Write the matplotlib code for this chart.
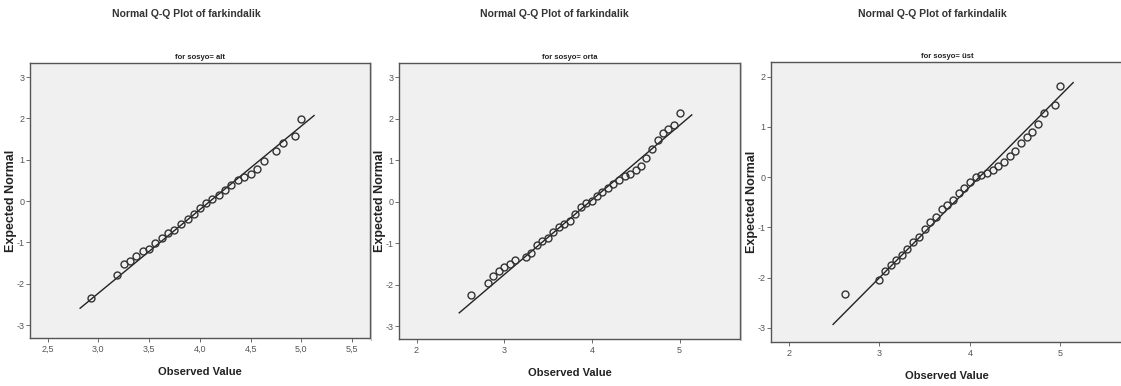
import numpy as np
import matplotlib.pyplot as plt
from matplotlib.lines import Line2D

plt.rcParams['axes.unicode_minus'] = False
plt.rcParams['font.family'] = ['Liberation Sans', 'DejaVu Sans']

alt_obs = [2.93, 3.185, 3.25, 3.31, 3.375, 3.44, 3.50, 3.56, 3.625, 3.69, 3.75, 3.81,
           3.88, 3.94, 4.00, 4.06, 4.12, 4.19, 4.25, 4.31, 4.375, 4.44, 4.50, 4.56,
           4.63, 4.75, 4.815, 4.94, 5.00]
alt_exp = [-2.34, -1.78, -1.51, -1.46, -1.33, -1.20, -1.15, -1.02, -0.89, -0.78, -0.70,
           -0.56, -0.44, -0.32, -0.17, -0.04, 0.05, 0.16, 0.27, 0.40, 0.50, 0.59, 0.66,
           0.78, 0.97, 1.21, 1.40, 1.58, 1.99]
alt_line = ([2.82, 5.126], [-2.59, 2.07])

orta_obs = [2.62, 2.81, 2.875, 2.94, 3.00, 3.066, 3.127, 3.25, 3.31, 3.375, 3.435, 3.50,
            3.56, 3.62, 3.686, 3.75, 3.81, 3.873, 3.93, 4.00, 4.06, 4.12, 4.185, 4.246,
            4.31, 4.375, 4.436, 4.50, 4.56, 4.62, 4.687, 4.75, 4.81, 4.874, 4.94, 5.00]
orta_exp = [-2.26, -1.97, -1.79, -1.67, -1.57, -1.51, -1.40, -1.33, -1.23, -1.05, -0.95,
            -0.88, -0.74, -0.60, -0.53, -0.47, -0.30, -0.14, -0.03, 0.02, 0.13, 0.23,
            0.33, 0.42, 0.53, 0.61, 0.67, 0.75, 0.87, 1.04, 1.26, 1.48, 1.66, 1.75,
            1.84, 2.13]
orta_line = ([2.487, 5.14], [-2.68, 2.09])

ust_obs = [2.623, 3.00, 3.065, 3.124, 3.187, 3.25, 3.31, 3.375, 3.437, 3.50, 3.563,
           3.625, 3.688, 3.75, 3.813, 3.876, 3.94, 4.00, 4.064, 4.127, 4.19, 4.25,
           4.315, 4.377, 4.44, 4.503, 4.565, 4.628, 4.69, 4.753, 4.816, 4.94, 5.00]
ust_exp = [-2.32, -2.05, -1.87, -1.75, -1.64, -1.55, -1.43, -1.29, -1.20, -1.03, -0.90,
           -0.79, -0.64, -0.55, -0.46, -0.31, -0.21, -0.10, 0.01, 0.04, 0.09, 0.14,
           0.23, 0.31, 0.43, 0.52, 0.67, 0.80, 0.89, 1.06, 1.27, 1.43, 1.81]
ust_line = ([2.49, 5.14], [-2.93, 1.88])

titulo = 'Normal Q-Q Plot of farkindalik'
subtitulos = ['for sosyo= alt', 'for sosyo= orta', 'for sosyo= üst']

xticks_alt = [2.5, 3.0, 3.5, 4.0, 4.5, 5.0, 5.5]
xticklabels_alt = ['2,5', '3,0', '3,5', '4,0', '4,5', '5,0', '5,5']
xticks_int = [2, 3, 4, 5]
yticks_3 = [-3, -2, -1, 0, 1, 2, 3]
yticks_2 = [-3, -2, -1, 0, 1, 2]

W, H = 1121, 386
fig = plt.figure(figsize=(W / 100, H / 100), dpi=100)

# posições em pixels: esquerda, direita, topo, base
caixas = [(30, 370, 63, 338), (399, 740, 63, 339), (771, 1123, 62, 342)]
dados = [(alt_obs, alt_exp, alt_line), (orta_obs, orta_exp, orta_line),
         (ust_obs, ust_exp, ust_line)]
xlims = [(2.326, 5.677), (1.80, 5.69), (1.805, 5.69)]
ylims = [(-3.31, 3.34), (-3.31, 3.34), (-3.28, 2.29)]
centros_titulo = [186, 554, 932]
ylabel_x = [17, 386, 758]

for i in range(3):
    l, r, t, b = caixas[i]
    ax = fig.add_axes([l / W, 1 - b / H, (r - l) / W, (b - t) / H])
    obs, exp, linha = dados[i]
    ax.set_facecolor('#f0f0f0')
    ax.plot(linha[0], linha[1], color='#222222', lw=1.0)
    ax.plot(obs, exp, 'o', ms=5, mfc='none', mec='#333333', mew=1.0)
    ax.set_xlim(xlims[i])
    ax.set_ylim(ylims[i])
    if i == 0:
        ax.set_xticks(xticks_alt)
        ax.set_xticklabels(xticklabels_alt)
    else:
        ax.set_xticks(xticks_int)
    ax.set_yticks(yticks_2 if i == 2 else yticks_3)
    ax.tick_params(length=3, width=0.6, color='#555555', labelcolor='#555555',
                   labelsize=6.5, pad=2)
    ax.tick_params(axis='y', pad=1.2)
    for s in ax.spines.values():
        s.set_color('#555555')
        s.set_linewidth(1.0)
    ax.set_title(subtitulos[i], fontsize=5.5, fontweight='bold', pad=3, color='#222222')
    ax.set_xlabel('Observed Value', fontsize=8, fontweight='bold', color='#222222')
    ax.xaxis.set_label_coords(0.5, -29 / (b - t))
    ax.set_ylabel('Expected Normal', fontsize=9, fontweight='bold', color='#222222')
    ax.yaxis.set_label_coords((ylabel_x[i] - l) / (r - l), 0.5)
    fig.text(centros_titulo[i] / W, 1 - 14 / H, titulo, ha='center', va='center',
             fontsize=7.5, fontweight='bold', color='#333333')

# linhas finas de separação entre os painéis
for xs in [371, 741]:
    fig.add_artist(Line2D([xs / W, xs / W], [1 - 340 / H, 1 - 63 / H],
                          color='#bbbbbb', lw=0.8))

fig.savefig('out.png', dpi=100)
